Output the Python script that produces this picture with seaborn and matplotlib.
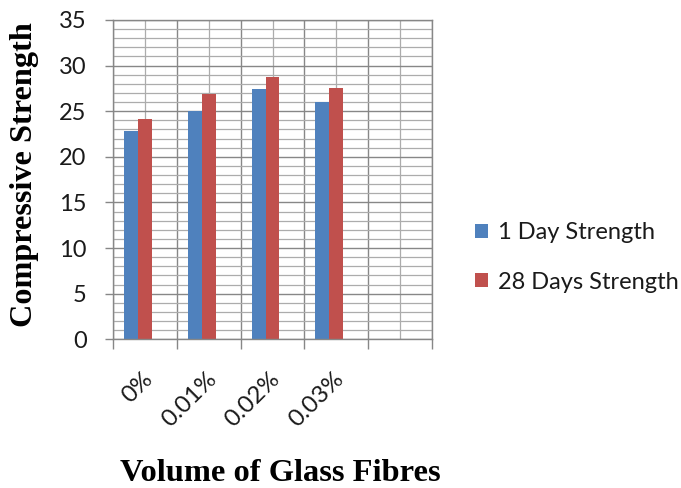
import numpy as np
import pandas as pd
import matplotlib
matplotlib.use("Agg")
import matplotlib.pyplot as plt
import seaborn as sns
from matplotlib.patches import Patch
from matplotlib.ticker import MultipleLocator
from matplotlib.transforms import ScaledTranslation

# Data
categories = ["0%", "0.01%", "0.02%", "0.03%"]
one_day = [22.8, 25.0, 27.4, 26.0]
twenty_eight_days = [24.2, 26.9, 28.7, 27.6]
series_names = ["1 Day Strength", "28 Days Strength"]
y_ticks = [0, 5, 10, 15, 20, 25, 30, 35]

colors = ["#4F81BD", "#C0504D"]

df = pd.DataFrame({
    "Volume": categories * 2,
    "Strength": one_day + twenty_eight_days,
    "Series": [series_names[0]] * len(categories) + [series_names[1]] * len(categories),
})

sns.set_style("white")
plt.rcParams["font.family"] = ["Lato", "DejaVu Sans"]

fig = plt.figure(figsize=(6.81, 4.88), dpi=100)
ax = fig.add_axes([113 / 681, 1 - 339.3 / 488, 319 / 681, 319.3 / 488])

# an empty third slot in every group and an empty fifth category
slot_order = series_names + ["(empty)"]
cat_order = categories + [" "]
sns.barplot(data=df, x="Volume", y="Strength", hue="Series",
            order=cat_order, hue_order=slot_order,
            palette=colors + ["white"], width=0.656, saturation=1,
            edgecolor="none", linewidth=0, legend=False, ax=ax)

ax.set_xlim(-0.5, len(cat_order) - 0.5)
ax.set_ylim(0, 35)

# gridlines: category boundaries + centres, integer minor steps on y
ax.set_yticks(y_ticks)
ax.yaxis.set_minor_locator(MultipleLocator(1))
ax.set_xticks(np.arange(-0.5, len(cat_order), 1.0))
ax.set_xticklabels([""] * len(np.arange(-0.5, len(cat_order), 1.0)))
ax.set_xticks(np.arange(len(cat_order)), minor=True)
ax.set_xticklabels(cat_order, minor=True)

ax.set_axisbelow(True)
ax.grid(which="major", color="#878787", linewidth=1.0)
ax.grid(which="minor", color="#acacac", linewidth=0.9)
for sp in ax.spines.values():
    sp.set_visible(True)
    sp.set_color("#878787")
    sp.set_linewidth(1.0)

ax.tick_params(axis="y", which="major", direction="out", length=6, width=1,
               color="#878787", pad=13, labelsize=17, labelcolor="#1a1a1a", left=True)
ax.tick_params(axis="y", which="minor", length=0)
ax.tick_params(axis="x", which="major", direction="out", length=7, width=1,
               color="#878787", bottom=True)
ax.tick_params(axis="x", which="minor", length=0, pad=21, labelsize=17.5,
               labelcolor="#1a1a1a")
shift = ScaledTranslation(-3 / 100, 0, fig.dpi_scale_trans)
for lab in ax.get_xticklabels(minor=True):
    lab.set_rotation(45)
    lab.set_ha("right")
    lab.set_va("top")
    lab.set_rotation_mode("anchor")
    lab.set_transform(lab.get_transform() + shift)

ax.set_xlabel("Volume of Glass Fibres", family="Liberation Serif",
              fontweight="bold", fontsize=23.4, color="black")
ax.xaxis.set_label_coords(0.524, -0.374)
ax.set_ylabel("Compressive Strength", family="Liberation Serif",
              fontweight="bold", fontsize=23.2, color="black")
ax.yaxis.set_label_coords(-0.233, 0.515)

handles = [Patch(facecolor=c, edgecolor="none", label=n)
           for c, n in zip(colors, series_names)]
fig.legend(handles=handles, loc="center left",
           bbox_to_anchor=(475 / 681, 1 - 257.5 / 488), frameon=False,
           fontsize=17, handlelength=0.55, handleheight=0.55,
           handletextpad=0.42, labelspacing=1.19, borderpad=0,
           borderaxespad=0, labelcolor="#1a1a1a")

fig.savefig("out.png", dpi=100)
